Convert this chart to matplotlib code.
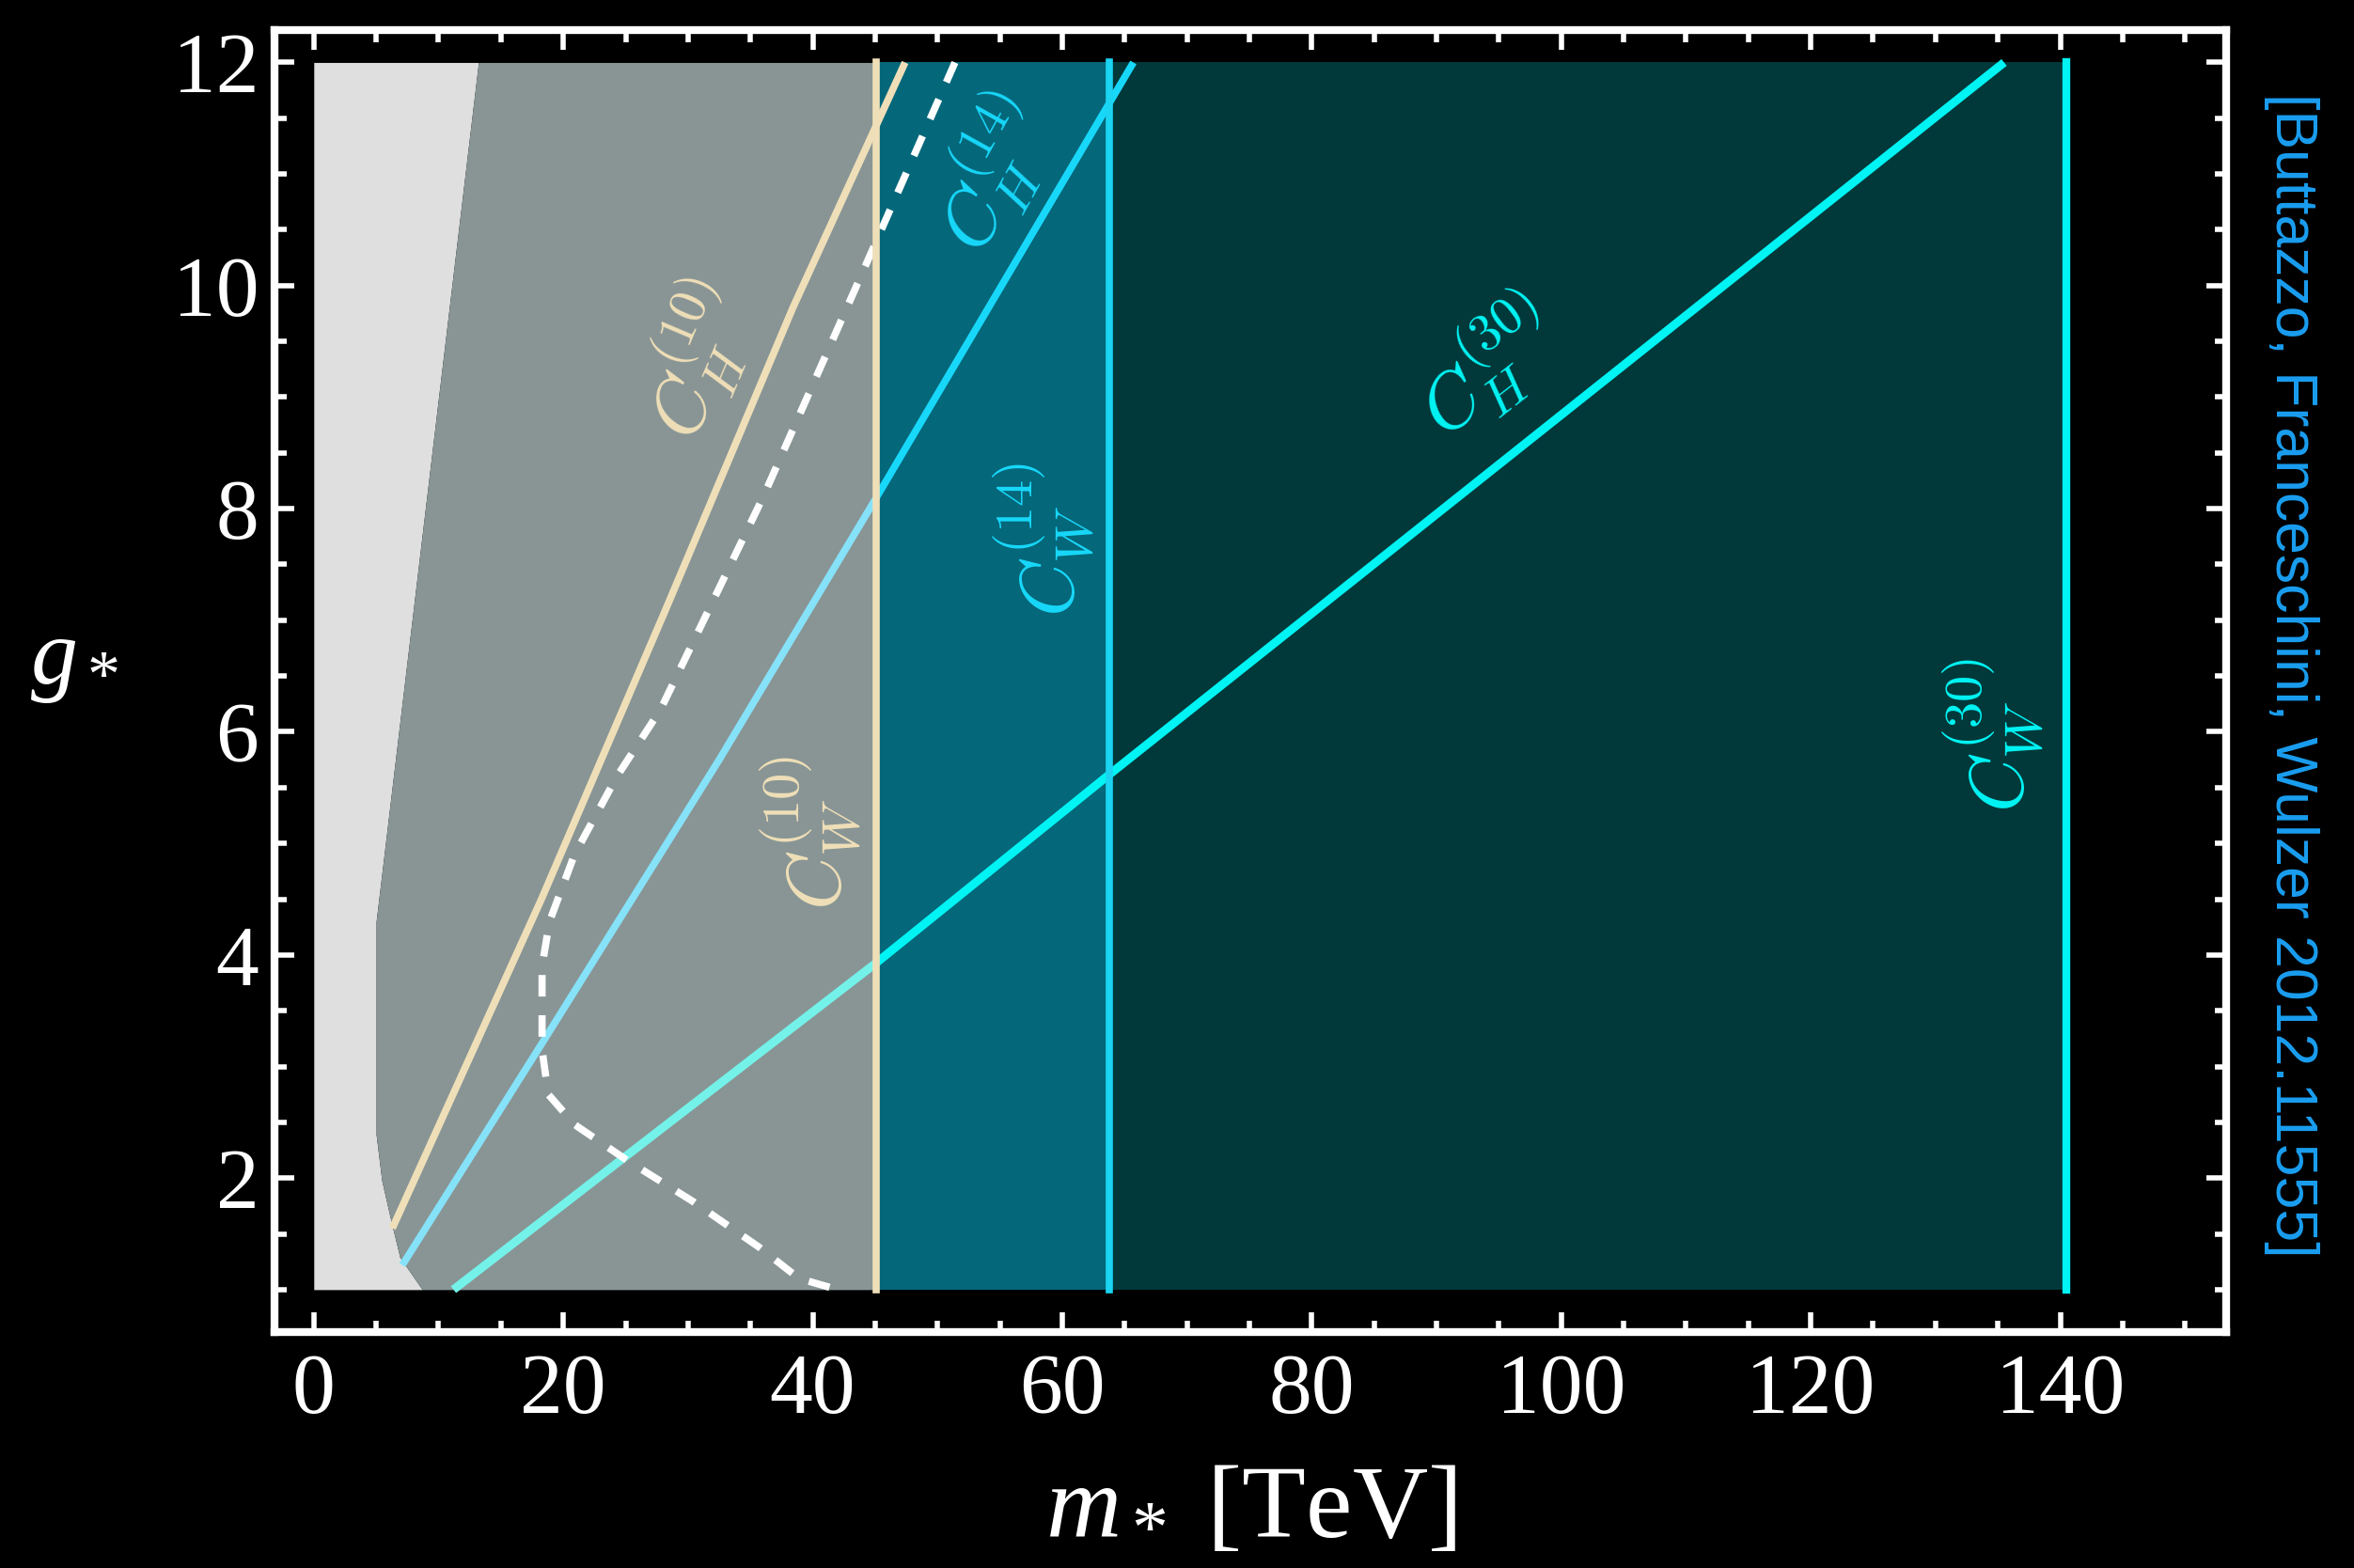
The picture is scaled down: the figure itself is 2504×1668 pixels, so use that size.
import numpy as np
import matplotlib
matplotlib.use('Agg')
import matplotlib.pyplot as plt
from matplotlib.ticker import MultipleLocator

plt.rcParams['font.family'] = ['Liberation Serif', 'DejaVu Serif']
plt.rcParams['mathtext.fontset'] = 'custom'
plt.rcParams['mathtext.rm'] = 'Liberation Serif'
plt.rcParams['mathtext.it'] = 'Liberation Serif:italic'
plt.rcParams['mathtext.bf'] = 'Liberation Serif:bold'

# left edge of the excluded (light grey) region
bnd_g = [1.0, 1.29, 1.66, 1.98, 2.39, 4.3, 12.0]
bnd_m = [8.7, 6.9, 6.1, 5.45, 5.0, 5.0, 13.2]

# vertical reach limits C_W
cw10_m = 45.1
cw14_m = 63.8
cw30_m = 140.5

# C_H curves (m_*, g_*)
ch10_m = [6.3, 18.25, 28.3, 38.4, 47.4]
ch10_g = [1.55, 4.5, 7.12, 9.8, 12.0]

ch14_m = [7.1, 18.25, 32.5, 45.1, 65.7]
ch14_g = [1.22, 3.2, 5.75, 8.1, 12.0]

ch30_m = [11.2, 24.6, 45.1, 63.8, 135.5]
ch30_g = [1.0, 2.16, 3.93, 5.62, 12.0]

# white dashed curve
dash_m = [51.4, 45.1, 36.0, 27.8, 24.3, 20.9, 18.9, 18.3, 18.3, 18.8, 20.9,
          25.1, 30.4, 35.7, 38.9, 42.0]
dash_g = [12.0, 10.4, 8.1, 6.2, 5.6, 4.9, 4.3, 3.9, 3.15, 2.75, 2.48,
          2.16, 1.79, 1.38, 1.1, 1.0]

g_lo, g_hi = 1.0, 12.0

beige = '#efdfb8'
c14 = '#18d8fa'
c14_light = '#86e2f8'
c14w = '#1ad4f2'
c30 = '#00f4f4'
c30_light = '#74f2ea'

fig = plt.figure(figsize=(25.04, 16.68), dpi=100, facecolor='black')
ax = fig.add_axes([0.1166, 0.1505, 0.8291, 0.8303])
ax.set_facecolor('black')

# shaded regions
ax.fill_betweenx(bnd_g, 0, bnd_m, color='#dfdfdf', lw=0)
ax.fill_betweenx(bnd_g, bnd_m, cw10_m, color='#899595', lw=0)
ax.fill_between([cw10_m, cw14_m], g_lo, g_hi, color='#05677a', lw=0)
ax.fill_between([cw14_m, cw30_m], g_lo, g_hi, color='#01393b', lw=0)

# C_H lines, lighter where they sit on the grey region
ax.plot(ch30_m[:3], ch30_g[:3], color=c30_light, lw=6.5, solid_capstyle='butt')
ax.plot(ch30_m[2:], ch30_g[2:], color=c30, lw=6.5, solid_capstyle='butt')
ax.plot(ch14_m[:4], ch14_g[:4], color=c14_light, lw=5.5, solid_capstyle='butt')
ax.plot(ch14_m[3:], ch14_g[3:], color=c14, lw=5.5, solid_capstyle='butt')
ax.plot(ch10_m, ch10_g, color=beige, lw=5.5, solid_capstyle='butt')
ax.plot(dash_m, dash_g, color='white', lw=5.5, dashes=(3.0, 2.6))

# vertical C_W lines
ax.plot([cw14_m, cw14_m], [g_lo, g_hi], color=c14w, lw=5.5)
ax.plot([cw30_m, cw30_m], [g_lo, g_hi], color=c30, lw=6)
ax.plot([cw10_m, cw10_m], [g_lo, g_hi], color=beige, lw=5.5)

# curve labels
lab = dict(fontsize=58, ha='center', va='center', math_fontfamily='cm')
ax.text(30.6, 9.33, r'$C_H^{(10)}$', color=beige, rotation=67, **lab)
ax.text(39.8, 5.09, r'$C_W^{(10)}$', color=beige, rotation=90, **lab)
ax.text(54.3, 11.0, r'$C_H^{(14)}$', color=c14, rotation=61, **lab)
ax.text(58.5, 7.72, r'$C_W^{(14)}$', color=c14, rotation=90, **lab)
ax.text(94.0, 9.27, r'$C_H^{(30)}$', color=c30, rotation=38, **lab)
ax.text(134.6, 5.97, r'$C_W^{(30)}$', color=c30, rotation=90, **lab)

ax.set_xlim(-3.15, 153.3)
ax.set_ylim(0.62, 12.29)

ax.xaxis.set_major_locator(MultipleLocator(20))
ax.xaxis.set_minor_locator(MultipleLocator(5))
ax.yaxis.set_major_locator(MultipleLocator(2))
ax.yaxis.set_minor_locator(MultipleLocator(0.5))
ax.tick_params(which='both', direction='in', top=True, right=True,
               color='white', labelcolor='white', labelsize=66)
ax.tick_params(which='major', length=15, width=4)
ax.tick_params(which='minor', length=9, width=4)
ax.tick_params(axis='x', pad=16)
ax.tick_params(axis='y', pad=12)
for s in ax.spines.values():
    s.set_color('white')
    s.set_linewidth(6)

fig.text(0.5312, 0.02, r'$m_*$ [TeV]', color='white', fontsize=80,
         ha='center', va='baseline')
fig.text(0.0316, 0.564, r'$g_*$', color='white', fontsize=72,
         ha='center', va='baseline')
fig.text(0.9735, 0.5695, '[Buttazzo, Franceschini, Wulzer 2012.11555]',
         color='#1a9ef0', fontsize=45, rotation=-90, ha='center', va='center',
         family='Liberation Sans')

fig.savefig('out.png', dpi=100, facecolor='black')
